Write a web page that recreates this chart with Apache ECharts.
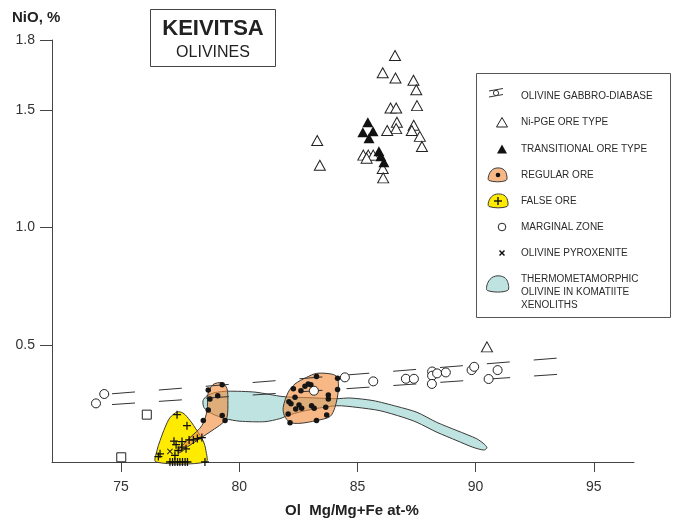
<!DOCTYPE html>
<html>
<head>
<meta charset="utf-8">
<script src="https://cdn.jsdelivr.net/npm/echarts@6/dist/echarts.min.js"></script>
<style>
  html, body { margin: 0; padding: 0; background: #fff; }
  #main { width: 679px; height: 523px; }
</style>
</head>
<body>
<div id="main"></div>
<script>
// Olivine composition: Fo (Mg/Mg+Fe, at-%) versus NiO (%)
const xTickValues = [75, 80, 85, 90, 95];
const yTickValues = [0.5, 1.0, 1.5, 1.8];

// Ni-PGE ore type olivines (open triangles)
const niPgeOre = [
  [86.59, 1.734], [86.07, 1.660], [86.61, 1.638], [87.37, 1.628], [87.49, 1.588],
  [87.52, 1.520], [86.40, 1.510], [86.64, 1.510], [86.67, 1.449], [86.64, 1.422],
  [86.26, 1.414], [87.38, 1.436], [87.30, 1.414], [87.64, 1.389], [87.73, 1.346],
  [83.30, 1.371], [83.41, 1.266], [85.25, 1.309], [85.46, 1.309], [85.67, 1.309],
  [85.39, 1.296], [86.07, 1.252], [86.09, 1.212], [90.48, 0.491]
];

// Transitional ore type (filled triangles)
const transitionalOre = [
  [85.44, 1.449], [85.23, 1.406], [85.66, 1.411], [85.49, 1.381],
  [85.91, 1.326], [85.99, 1.304], [86.12, 1.279]
];

// Marginal zone (open circles)
const marginalZone = [
  [84.47, 0.361], [85.67, 0.344], [87.05, 0.355], [87.39, 0.355], [88.16, 0.386],
  [88.16, 0.368], [88.37, 0.378], [88.74, 0.382], [88.15, 0.333], [89.83, 0.392],
  [89.94, 0.406], [90.55, 0.354], [90.93, 0.392], [74.29, 0.290], [73.94, 0.250],
  [83.16, 0.304]
];

// Unassigned samples (open squares)
const otherSamples = [[76.09, 0.202], [75.01, 0.020]];

// Olivine pyroxenite
const olivinePyroxenite = [[77.07, 0.045]];

// False ore samples (crosses)
const falseOre = [
  [77.37, 0.202], [77.79, 0.155], [77.24, 0.089], [77.33, 0.074], [77.58, 0.087],
  [77.88, 0.094], [78.06, 0.094], [78.23, 0.100], [78.42, 0.104], [77.57, 0.063],
  [77.75, 0.056], [77.42, 0.049], [77.28, 0.028], [76.65, 0.035], [76.58, 0.023],
  [77.07, 0], [77.18, 0], [77.28, 0], [77.39, 0], [77.49, 0], [77.60, 0],
  [77.71, 0], [77.81, 0], [78.55, 0]
];

// Regular ore samples (black dots)
const regularOre = [
  [79.28, 0.330], [78.69, 0.307], [79.09, 0.283], [78.76, 0.269], [78.69, 0.222],
  [79.28, 0.198], [79.40, 0.177], [78.48, 0.177],
  [83.27, 0.365], [84.16, 0.357], [82.92, 0.333], [83.03, 0.329], [82.78, 0.323],
  [82.61, 0.304], [82.29, 0.312], [82.36, 0.276], [84.16, 0.309], [83.77, 0.286],
  [83.77, 0.269], [82.10, 0.257], [82.19, 0.248], [82.53, 0.243], [82.64, 0.229],
  [82.39, 0.226], [83.06, 0.240], [83.17, 0.229], [83.66, 0.233], [82.07, 0.205],
  [83.70, 0.201], [83.27, 0.177], [82.15, 0.167]
];

// Olivine gabbro-diabase trend (two dashed bounds)
const gabbroUpper = [[74.62, 0.291], [93.69, 0.445]];
const gabbroLower = [[74.62, 0.245], [93.94, 0.377]];

// Field outlines
const falseOreField = [
  [76.48, 0], [76.52, 0.049], [76.65, 0.091], [76.86, 0.147], [77.07, 0.189],
  [77.37, 0.213], [77.62, 0.209], [77.92, 0.177], [78.21, 0.134], [78.47, 0.091],
  [78.59, 0.049], [78.59, 0]
];
const regularOreFieldA = [
  [77.41, 0.049], [77.92, 0.104], [78.42, 0.155], [78.64, 0.219], [78.68, 0.291],
  [78.89, 0.330], [79.27, 0.338], [79.48, 0.313], [79.52, 0.262], [79.48, 0.189],
  [79.27, 0.164], [78.85, 0.134], [78.34, 0.100], [77.83, 0.066], [77.49, 0.040]
];
const regularOreFieldB = [
  [81.86, 0.233], [82.07, 0.297], [82.36, 0.333], [82.85, 0.361], [83.27, 0.378],
  [83.91, 0.375], [84.15, 0.361], [84.19, 0.304], [84.05, 0.233], [83.84, 0.194],
  [83.28, 0.177], [82.57, 0.165], [82.15, 0.169], [81.91, 0.198]
];
const xenolithField = [
  [78.47, 0.262], [78.64, 0.283], [78.98, 0.296], [79.52, 0.302], [80.67, 0.298],
  [81.85, 0.279], [82.99, 0.274], [84.13, 0.270], [84.68, 0.273], [85.66, 0.262],
  [86.67, 0.237], [87.52, 0.212], [88.36, 0.169], [89.21, 0.134], [90.05, 0.099],
  [90.39, 0.074], [90.48, 0.060], [90.35, 0.051], [89.88, 0.063], [89.21, 0.091],
  [88.36, 0.127], [87.52, 0.169], [86.92, 0.191], [85.95, 0.219], [84.98, 0.233],
  [84.13, 0.240], [82.99, 0.223], [82.15, 0.202], [81.72, 0.185], [81.09, 0.172],
  [80.03, 0.174], [79.40, 0.185], [78.85, 0.206], [78.51, 0.232]
];

const FONT = '"Liberation Sans", Arial, Helvetica, sans-serif';
const INK = '#2b2b2b';

function fieldSeries(name, pts, fill, z, smooth) {
  return {
    type: 'custom',
    name: name,
    coordinateSystem: 'cartesian2d',
    data: pts,
    clip: false,
    silent: true,
    z: z,
    renderItem: function (params, api) {
      if (params.dataIndex !== 0) return null;
      return {
        type: 'polygon',
        shape: { points: pts.map(function (p) { return api.coord(p); }), smooth: smooth },
        style: { fill: fill, stroke: '#3a3a3a', lineWidth: 1 }
      };
    }
  };
}

function scatter(name, data, symbol, size, fill, stroke, z) {
  return {
    type: 'scatter',
    name: name,
    data: data,
    symbol: symbol,
    symbolSize: size,
    clip: false,
    silent: true,
    z: z,
    itemStyle: { color: fill, borderColor: stroke, borderWidth: stroke ? 1 : 0, opacity: 1 }
  };
}

const crossPath = 'path://M4.2,0h1.6v4.2h4.2v1.6h-4.2v4.2h-1.6v-4.2h-4.2v-1.6h4.2z';
const xPath = 'path://M1.1,0L5,3.9L8.9,0L10,1.1L6.1,5L10,8.9L8.9,10L5,6.1L1.1,10L0,8.9L3.9,5L0,1.1z';

function dashed(name, data) {
  return {
    type: 'line', name: name, data: data, symbol: 'none', silent: true, z: 4,
    lineStyle: { color: '#333', width: 1, type: [23, 24] }
  };
}

// Legend drawn as its own block
function legendText(y, str) {
  return { type: 'text', x: 521, y: y, style: { text: str, font: '10px ' + FONT, fill: INK, textVerticalAlign: 'middle' } };
}
function blob(x, y, w, h, fill) {
  return {
    type: 'polygon',
    shape: {
      points: [[x, y + h], [x + 0.3, y + h * 0.45], [x + w * 0.3, y + 0.2], [x + w * 0.75, y],
               [x + w, y + h * 0.35], [x + w, y + h]],
      smooth: 0.35
    },
    style: { fill: fill, stroke: '#3a3a3a', lineWidth: 1 }
  };
}

const legendElements = [
  { type: 'rect', shape: { x: 476.5, y: 73.5, width: 194, height: 244 }, style: { fill: '#fff', stroke: '#555', lineWidth: 1 } },
  // gabbro-diabase
  { type: 'line', shape: { x1: 489, y1: 91, x2: 503, y2: 88.5 }, style: { stroke: '#333', lineWidth: 1 } },
  { type: 'line', shape: { x1: 489, y1: 97, x2: 503, y2: 94.5 }, style: { stroke: '#333', lineWidth: 1 } },
  { type: 'circle', shape: { cx: 496, cy: 93, r: 2.6 }, style: { fill: '#fff', stroke: '#333', lineWidth: 1 } },
  legendText(96, 'OLIVINE GABBRO-DIABASE'),
  // Ni-PGE ore
  { type: 'polygon', shape: { points: [[496.5, 127], [507.5, 127], [502, 117.5]] }, style: { fill: '#fff', stroke: '#222', lineWidth: 1 } },
  legendText(122.5, 'Ni-PGE ORE TYPE'),
  // transitional
  { type: 'polygon', shape: { points: [[497, 153.5], [507, 153.5], [502, 144.5]] }, style: { fill: '#111' } },
  legendText(149.5, 'TRANSITIONAL ORE TYPE'),
  // regular ore
  blob(489, 168.5, 17, 12, 'rgba(242,140,60,0.62)'),
  { type: 'circle', shape: { cx: 498, cy: 175, r: 2.3 }, style: { fill: '#111' } },
  legendText(175.5, 'REGULAR ORE'),
  // false ore
  blob(489, 194.5, 18, 12, '#ffeb00'),
  { type: 'line', shape: { x1: 498, y1: 197, x2: 498, y2: 205 }, style: { stroke: '#111', lineWidth: 1.4 } },
  { type: 'line', shape: { x1: 494, y1: 201, x2: 502, y2: 201 }, style: { stroke: '#111', lineWidth: 1.4 } },
  legendText(201.5, 'FALSE ORE'),
  // marginal zone
  { type: 'circle', shape: { cx: 502, cy: 227, r: 3.8 }, style: { fill: '#fff', stroke: '#222', lineWidth: 1 } },
  legendText(227, 'MARGINAL ZONE'),
  // olivine pyroxenite
  { type: 'line', shape: { x1: 499.5, y1: 250.5, x2: 504.5, y2: 255.5 }, style: { stroke: '#111', lineWidth: 1.5 } },
  { type: 'line', shape: { x1: 504.5, y1: 250.5, x2: 499.5, y2: 255.5 }, style: { stroke: '#111', lineWidth: 1.5 } },
  legendText(253.5, 'OLIVINE PYROXENITE'),
  // xenolith olivine
  blob(487.5, 276.5, 20, 14, '#bfe3e0'),
  legendText(279.5, 'THERMOMETAMORPHIC'),
  legendText(292.5, 'OLIVINE IN KOMATIITE'),
  legendText(305.5, 'XENOLITHS')
];

const titleElements = [
  { type: 'rect', shape: { x: 150.5, y: 9.5, width: 125, height: 57 }, style: { fill: '#fff', stroke: '#444', lineWidth: 1 } },
  { type: 'text', x: 213, y: 28.5, style: { text: 'KEIVITSA', font: 'bold 22px ' + FONT, fill: '#222', textAlign: 'center', textVerticalAlign: 'middle' } },
  { type: 'text', x: 213, y: 53, style: { text: 'OLIVINES', font: '16px ' + FONT, fill: '#222', textAlign: 'center', textVerticalAlign: 'middle' } },
  { type: 'text', x: 12, y: 18, style: { text: 'NiO, %', font: 'bold 15px ' + FONT, fill: '#222', textVerticalAlign: 'middle' } },
  { type: 'text', x: 352, y: 511, style: { text: 'Ol  Mg/Mg+Fe at-%', font: 'bold 15px ' + FONT, fill: '#222', textAlign: 'center', textVerticalAlign: 'middle' } }
];

const chart = echarts.init(document.getElementById('main'), null, { renderer: 'canvas' });
chart.setOption({
  animation: false,
  backgroundColor: '#fff',
  grid: { left: 52, right: 45, top: 40, bottom: 61 },
  xAxis: {
    type: 'value', min: 72.08, max: 96.7,
    axisLine: { show: true, onZero: false, lineStyle: { color: '#444', width: 1 } },
    axisTick: { show: true, length: 10, customValues: xTickValues, lineStyle: { color: '#444' } },
    axisLabel: { customValues: xTickValues, color: '#333', fontSize: 14, fontFamily: FONT, margin: 18 },
    splitLine: { show: false }
  },
  yAxis: {
    type: 'value', min: 0, max: 1.8,
    axisLine: { show: true, onZero: false, lineStyle: { color: '#444', width: 1 } },
    axisTick: { show: true, length: 12, customValues: yTickValues, lineStyle: { color: '#444' } },
    axisLabel: {
      customValues: yTickValues, color: '#333', fontSize: 14, fontFamily: FONT, margin: 17,
      formatter: function (v) { return Number(v).toFixed(1); }
    },
    splitLine: { show: false }
  },
  graphic: { elements: titleElements.concat(legendElements) },
  series: [
    fieldSeries('Thermometamorphic olivine', xenolithField, '#bfe3e0', 1, 0.25),
    fieldSeries('False ore', falseOreField, '#ffeb00', 2, 0.3),
    fieldSeries('Regular ore A', regularOreFieldA, 'rgba(242,140,60,0.62)', 3, 0.3),
    fieldSeries('Regular ore B', regularOreFieldB, 'rgba(242,140,60,0.62)', 3, 0.3),
    dashed('Gabbro-diabase upper', gabbroUpper),
    dashed('Gabbro-diabase lower', gabbroLower),
    scatter('Ni-PGE ore type', niPgeOre, 'triangle', [11, 10], '#fff', '#222', 5),
    scatter('Transitional ore type', transitionalOre, 'triangle', [11, 10], '#111', null, 6),
    scatter('Marginal zone', marginalZone, 'circle', 9, '#fff', '#222', 5),
    scatter('Other', otherSamples, 'rect', 9, '#fff', '#222', 5),
    scatter('False ore', falseOre, crossPath, 8, '#111', null, 6),
    scatter('Regular ore', regularOre, 'circle', 5.5, '#151515', null, 6),
    scatter('Olivine pyroxenite', olivinePyroxenite, xPath, 6, '#111', null, 6)
  ]
});
</script>
</body>
</html>
